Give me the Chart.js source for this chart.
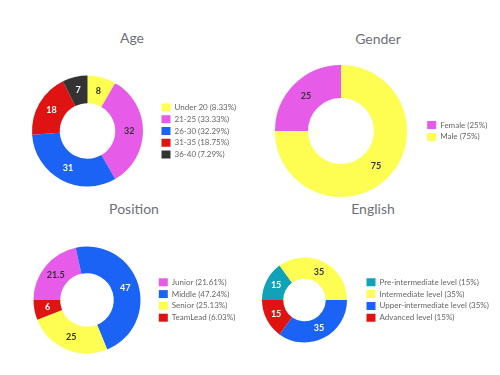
<!DOCTYPE html>
<html lang="en">
<head>
  <meta charset="UTF-8" />
  <meta name="viewport" content="width=device-width, initial-scale=1" />
  <title>Team Profile</title>
  <style>
    * {
      box-sizing: border-box;
    }

    body {
      margin: 0;
      background-color: #ffffff;
      font-family: Lato, 'Open Sans', sans-serif;
    }

    .board {
      position: relative;
      width: 500px;
      height: 375px;
      overflow: hidden;
    }

    .title {
      position: absolute;
      width: 200px;
      text-align: center;
      font-size: 14px;
      line-height: 1.2;
      color: #6e7178;
    }

    canvas {
      position: absolute;
      display: block;
    }
  </style>
</head>
<body>

<div class="board">
  <div class="title" style="left:32px; top:30px;">Age</div>
  <div class="title" style="left:278px; top:31px;">Gender</div>
  <div class="title" style="left:34px; top:201px;">Position</div>
  <div class="title" style="left:273px; top:201px;">English</div>

  <canvas id="ageChart" width="250" height="142" style="left:0; top:60px;"></canvas>
  <canvas id="genderChart" width="250" height="142" style="left:250px; top:60px;"></canvas>
  <canvas id="positionChart" width="250" height="142" style="left:0; top:229px;"></canvas>
  <canvas id="englishChart" width="260" height="142" style="left:240px; top:229px;"></canvas>
</div>

<script src="https://cdn.jsdelivr.net/npm/chart.js"></script>

<script>
// data
const ageLabels = ['Under 20', '21-25', '26-30', '31-35', '36-40'];
const ageValues = [8, 32, 31, 18, 7];

const genderLabels = ['Female', 'Male'];
const genderValues = [25, 75];

const positionLabels = ['Junior', 'Middle', 'Senior', 'TeamLead'];
const positionValues = [21.5, 47, 25, 6];

const englishLabels = ['Pre-intermediate level', 'Intermediate level', 'Upper-intermediate level', 'Advanced level'];
const englishValues = [15, 35, 35, 15];

// palette
const YELLOW = '#fdfd52';
const MAGENTA = '#e65ce9';
const BLUE = '#1b63f4';
const RED = '#e01313';
const BLACK = '#333333';
const TEAL = '#12a2b8';
const lightSlices = [YELLOW, MAGENTA];

// number in the middle of every slice
const sliceLabels = {
  id: 'sliceLabels',
  afterDatasetsDraw(chart) {
    const ctx = chart.ctx;
    const ds = chart.data.datasets[0];
    const meta = chart.getDatasetMeta(0);
    ctx.save();
    ctx.font = 'bold 9px Lato';
    ctx.textAlign = 'center';
    ctx.textBaseline = 'middle';
    meta.data.forEach((arc, i) => {
      const p = arc.tooltipPosition();
      ctx.fillStyle = lightSlices.includes(ds.backgroundColor[i]) ? '#333333' : '#ffffff';
      ctx.fillText(String(ds.data[i]), p.x, p.y);
    });
    ctx.restore();
  }
};

// pin the legend box to a fixed width so the doughnut lands where it should
const legendWidth = {
  id: 'legendWidth',
  beforeLayout(chart, args, opts) {
    const legend = chart.legend;
    if (legend && !legend._pinned) {
      const fit = legend.fit.bind(legend);
      legend.fit = function () {
        fit();
        this.width = opts.width;
      };
      legend._pinned = true;
    }
  }
};

function withPercent(labels, values) {
  const total = values.reduce((a, b) => a + b, 0);
  return labels.map((l, i) => l + ' (' + Number((values[i] / total * 100).toFixed(2)) + '%)');
}

function makeDoughnut(id, labels, values, colors, opts) {
  const ctx = document.getElementById(id).getContext('2d');
  return new Chart(ctx, {
    type: 'doughnut',
    data: {
      labels: withPercent(labels, values),
      datasets: [{
        data: values,
        backgroundColor: colors,
        borderWidth: 0
      }]
    },
    options: {
      responsive: false,
      animation: false,
      radius: opts.radius,
      cutout: '50%',
      rotation: opts.rotation,
      layout: {
        padding: { left: opts.padLeft, right: 0, top: 0, bottom: 0 }
      },
      plugins: {
        legendWidth: { width: opts.legendWidth },
        legend: {
          position: 'right',
          labels: {
            boxWidth: 9,
            boxHeight: 8,
            padding: 3.8,
            color: '#666666',
            font: { family: 'Lato', size: 8 }
          }
        },
        tooltip: { enabled: false }
      }
    },
    plugins: [sliceLabels, legendWidth]
  });
}

makeDoughnut('ageChart', ageLabels, ageValues,
  [YELLOW, MAGENTA, BLUE, RED, BLACK],
  { radius: 55.5, rotation: 0, padLeft: 17.3, legendWidth: 92.3 });

makeDoughnut('genderChart', genderLabels, genderValues,
  [MAGENTA, YELLOW],
  { radius: 66, rotation: -90, padLeft: 8.6, legendWidth: 76.6 });

makeDoughnut('positionChart', positionLabels, positionValues,
  [MAGENTA, BLUE, YELLOW, RED],
  { radius: 53.5, rotation: -90, padLeft: 19, legendWidth: 95 });

makeDoughnut('englishChart', englishLabels, englishValues,
  [TEAL, YELLOW, BLUE, RED],
  { radius: 42.5, rotation: -90, padLeft: 6.3, legendWidth: 137.3 });
</script>

</body>
</html>
